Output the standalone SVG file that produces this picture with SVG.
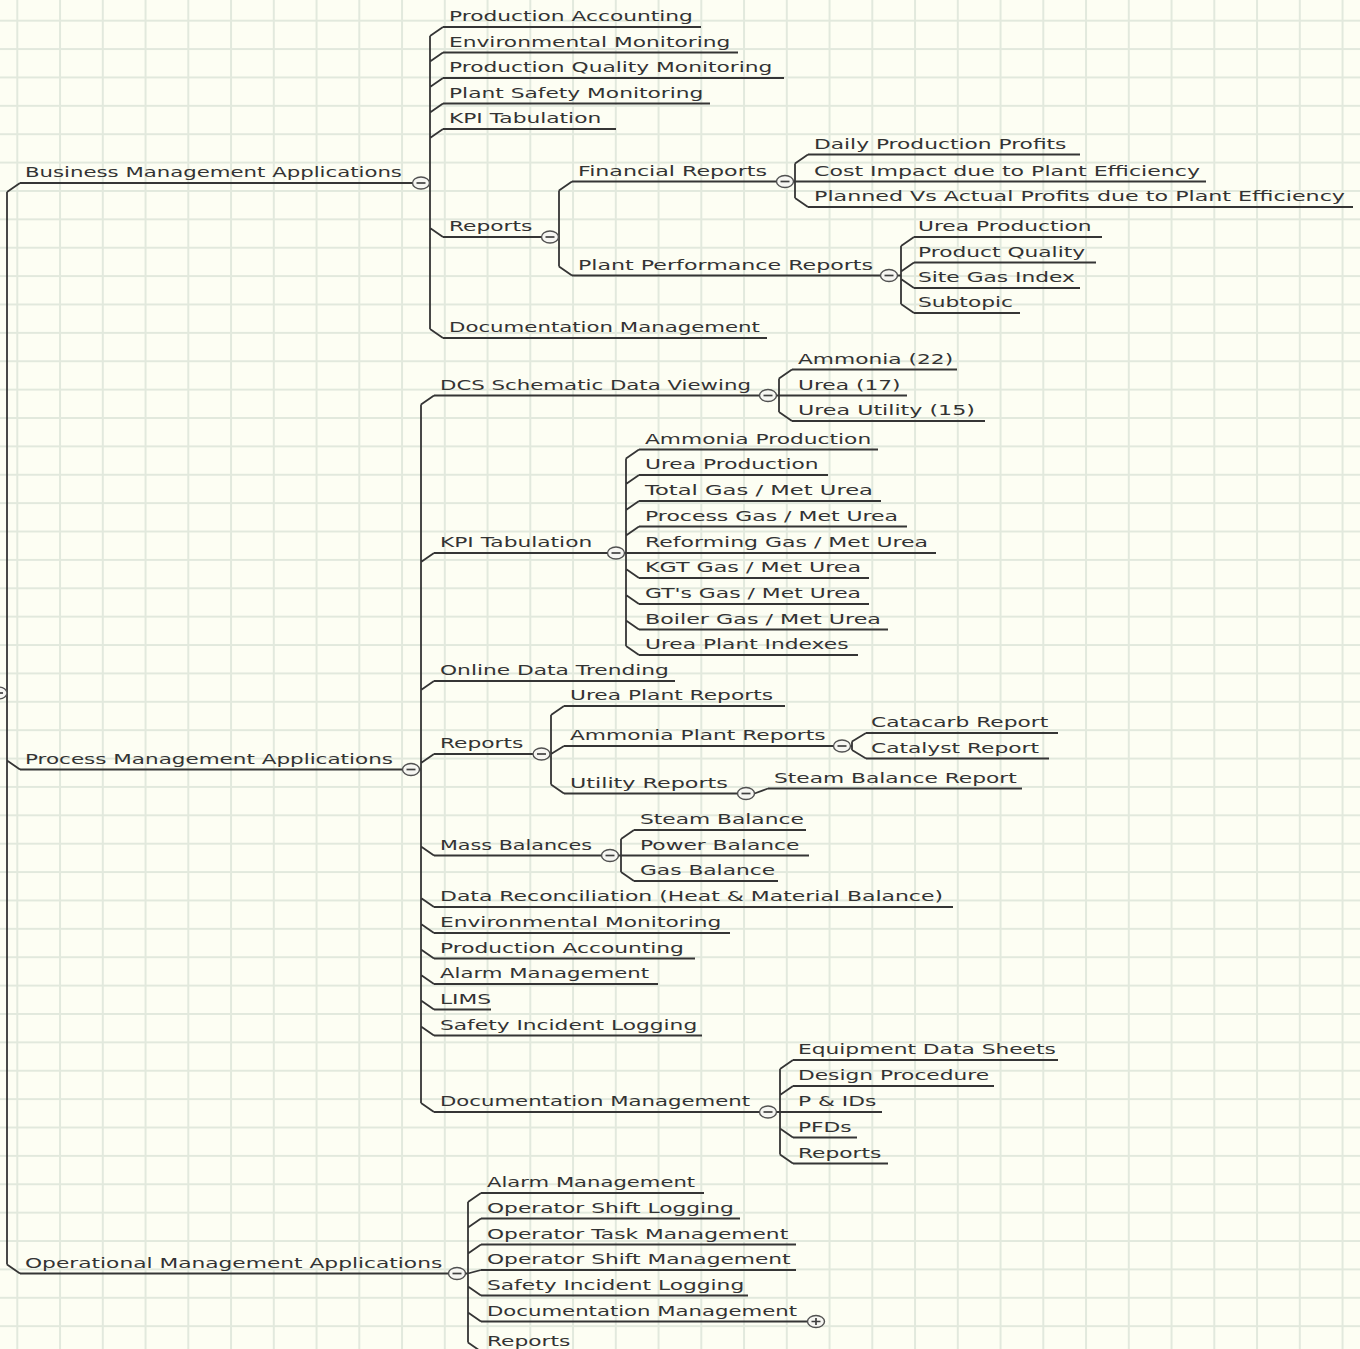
<svg xmlns="http://www.w3.org/2000/svg" xmlns:xlink="http://www.w3.org/1999/xlink" width="1360" height="1349" viewBox="0 0 1360 1349">
<style>
.t{font-family:"DejaVu Sans",Verdana,sans-serif;font-size:14.5px;fill:#333333;}
.l{stroke:#353535;stroke-width:1.8;fill:none;}
.c{fill:#f6f6f2;stroke:#505050;stroke-width:1.4;}
.m{stroke:#404040;stroke-width:1.7;fill:none;}
</style>
<defs>
<pattern id="grid" x="16.3" y="19.7" width="42.75" height="28.38" patternUnits="userSpaceOnUse">
<path d="M1 0V28.38M0 1H42.75" stroke="#e2e9dd" stroke-width="2" fill="none"/>
</pattern>
<g id="mn"><ellipse cx="0" cy="0" rx="8.5" ry="6" class="c"/><path d="M-4.5 0H4.5" class="m"/></g>
<g id="pl"><ellipse cx="0" cy="0" rx="8.5" ry="6" class="c"/><path d="M-4.5 0H4.5M0 -3.5V3.5" class="m"/></g>
</defs>
<rect width="1360" height="1349" fill="#fdfef3"/>
<rect width="1360" height="1349" fill="url(#grid)"/>

<g id="connectors" class="l">
<path d="M7 192V1264.5M7 192L20 183M7 760.5L20 769.5M7 1264.5L20 1273.5"/>
<path d="M429.5 183H430M430 36V329M430 36L443 27M430 61.5L443 52.5M430 87L443 78M430 112.5L443 103.5M430 138L443 129M430 228L443 237M430 329L443 338"/>
<path d="M558.5 237H559M559 190.5V266.5M559 190.5L572 181.5M559 266.5L572 275.5"/>
<path d="M793.5 181.5H795M795 163.5V198M795 163.5L808 154.5M795 198L808 207"/>
<path d="M897.5 275.5H901M901 246V304M901 246L914 237M901 271.5L914 262.5M901 279L914 288M901 304L914 313"/>
<path d="M419.5 769.5H421M421 404.5V1103M421 404.5L434 395.5M421 562L434 553M421 690L434 681M421 763L434 754M421 846.5L434 855.5M421 898L434 907M421 924L434 933M421 949.5L434 958.5M421 975L434 984M421 1000.5L434 1009.5M421 1026.5L434 1035.5M421 1103L434 1112"/>
<path d="M776.5 395.5H779M779 378.5V412M779 378.5L792 369.5M779 412L792 421"/>
<path d="M624.5 553H626M626 458.5V646M626 458.5L639 449.5M626 484L639 475M626 510L639 501M626 535.5L639 526.5M626 569L639 578M626 595L639 604M626 620.5L639 629.5M626 646L639 655"/>
<path d="M550 754H551M551 715V784.5M551 715L564 706M551 754L564 746M551 784.5L564 793.5"/>
<path d="M850.5 746H852M852 741.5V750M852 741.5L866 733M852 750L866 758.5"/>
<path d="M754.5 793.5L768 788.5"/>
<path d="M618.5 855.5H621M621 839V872M621 839L634 830M621 872L634 881"/>
<path d="M776.5 1112H780M780 1069V1154.5M780 1069L793 1060M780 1095L793 1086M780 1128.5L793 1137.5M780 1154.5L793 1163.5"/>
<path d="M465.5 1273.5H468M468 1202V1342.5M468 1202L481 1193M468 1227.5L481 1218.5M468 1253.5L481 1244.5M468 1273.5L481 1270M468 1286.5L481 1295.5M468 1312.5L481 1321.5M468 1342.5L481 1351.5"/>
</g>

<g id="root"><use href="#mn" x="-1.5" y="693"/></g>

<g id="bma"><text class="t" transform="translate(25 177) scale(1.5 1)" textLength="251.3" lengthAdjust="spacingAndGlyphs">Business Management Applications</text><path class="l" d="M20 183H412.5"/><use href="#mn" x="421" y="183"/></g>
<g id="pma"><text class="t" transform="translate(25 763.5) scale(1.5 1)" textLength="245.3" lengthAdjust="spacingAndGlyphs">Process Management Applications</text><path class="l" d="M20 769.5H402.5"/><use href="#mn" x="411" y="769.5"/></g>
<g id="oma"><text class="t" transform="translate(25 1267.5) scale(1.5 1)">Operational Management Applications</text><path class="l" d="M20 1273.5H448.5"/><use href="#mn" x="457" y="1273.5"/></g>

<g id="b1"><text class="t" transform="translate(449 21) scale(1.5 1)">Production Accounting</text><path class="l" d="M443 27H701"/></g>
<g id="b2"><text class="t" transform="translate(449 46.5) scale(1.5 1)">Environmental Monitoring</text><path class="l" d="M443 52.5H738"/></g>
<g id="b3"><text class="t" transform="translate(449 72) scale(1.5 1)">Production Quality Monitoring</text><path class="l" d="M443 78H784"/></g>
<g id="b4"><text class="t" transform="translate(449 97.5) scale(1.5 1)">Plant Safety Monitoring</text><path class="l" d="M443 103.5H710"/></g>
<g id="b5"><text class="t" transform="translate(449 123) scale(1.5 1)">KPI Tabulation</text><path class="l" d="M443 129H616"/></g>
<g id="b6"><text class="t" transform="translate(449 231) scale(1.5 1)">Reports</text><path class="l" d="M443 237H541.5"/><use href="#mn" x="550" y="237"/></g>
<g id="b7"><text class="t" transform="translate(449 332) scale(1.5 1)" textLength="207.3" lengthAdjust="spacingAndGlyphs">Documentation Management</text><path class="l" d="M443 338H767"/></g>

<g id="b6a"><text class="t" transform="translate(578 175.5) scale(1.5 1)" textLength="126" lengthAdjust="spacingAndGlyphs">Financial Reports</text><path class="l" d="M572 181.5H776.5"/><use href="#mn" x="785" y="181.5"/></g>
<g id="b6b"><text class="t" transform="translate(578 269.5) scale(1.5 1)" textLength="196.7" lengthAdjust="spacingAndGlyphs">Plant Performance Reports</text><path class="l" d="M572 275.5H880.5"/><use href="#mn" x="889" y="275.5"/></g>

<g id="f1"><text class="t" transform="translate(814 148.5) scale(1.5 1)">Daily Production Profits</text><path class="l" d="M808 154.5H1080"/></g>
<g id="f2"><text class="t" transform="translate(814 175.5) scale(1.5 1)" textLength="257.3" lengthAdjust="spacingAndGlyphs">Cost Impact due to Plant Efficiency</text><path class="l" d="M795 181.5H1206"/></g>
<g id="f3"><text class="t" transform="translate(814 201) scale(1.5 1)" textLength="354" lengthAdjust="spacingAndGlyphs">Planned Vs Actual Profits due to Plant Efficiency</text><path class="l" d="M808 207H1353"/></g>

<g id="p1"><text class="t" transform="translate(918 231) scale(1.5 1)">Urea Production</text><path class="l" d="M914 237H1102"/></g>
<g id="p2"><text class="t" transform="translate(918 256.5) scale(1.5 1)">Product Quality</text><path class="l" d="M914 262.5H1096"/></g>
<g id="p3"><text class="t" transform="translate(918 282) scale(1.5 1)">Site Gas Index</text><path class="l" d="M914 288H1080"/></g>
<g id="p4"><text class="t" transform="translate(918 307) scale(1.5 1)">Subtopic</text><path class="l" d="M914 313H1020"/></g>

<g id="c1"><text class="t" transform="translate(440 389.5) scale(1.5 1)" textLength="207.3" lengthAdjust="spacingAndGlyphs">DCS Schematic Data Viewing</text><path class="l" d="M434 395.5H759.5"/><use href="#mn" x="768" y="395.5"/></g>
<g id="c1a"><text class="t" transform="translate(798 363.5) scale(1.5 1)">Ammonia (22)</text><path class="l" d="M792 369.5H957"/></g>
<g id="c1b"><text class="t" transform="translate(798 389.5) scale(1.5 1)">Urea (17)</text><path class="l" d="M779 395.5H907"/></g>
<g id="c1c"><text class="t" transform="translate(798 415) scale(1.5 1)" textLength="118" lengthAdjust="spacingAndGlyphs">Urea Utility (15)</text><path class="l" d="M792 421H985"/></g>

<g id="c2"><text class="t" transform="translate(440 547) scale(1.5 1)">KPI Tabulation</text><path class="l" d="M434 553H607.5"/><use href="#mn" x="616" y="553"/></g>
<g id="k1"><text class="t" transform="translate(645 443.5) scale(1.5 1)">Ammonia Production</text><path class="l" d="M639 449.5H878"/></g>
<g id="k2"><text class="t" transform="translate(645 469) scale(1.5 1)">Urea Production</text><path class="l" d="M639 475H828"/></g>
<g id="k3"><text class="t" transform="translate(645 495) scale(1.5 1)" textLength="152" lengthAdjust="spacingAndGlyphs">Total Gas / Met Urea</text><path class="l" d="M639 501H881"/></g>
<g id="k4"><text class="t" transform="translate(645 520.5) scale(1.5 1)" textLength="168.7" lengthAdjust="spacingAndGlyphs">Process Gas / Met Urea</text><path class="l" d="M639 526.5H907"/></g>
<g id="k5"><text class="t" transform="translate(645 547) scale(1.5 1)" textLength="188.7" lengthAdjust="spacingAndGlyphs">Reforming Gas / Met Urea</text><path class="l" d="M626 553H936"/></g>
<g id="k6"><text class="t" transform="translate(645 572) scale(1.5 1)" textLength="144" lengthAdjust="spacingAndGlyphs">KGT Gas / Met Urea</text><path class="l" d="M639 578H869"/></g>
<g id="k7"><text class="t" transform="translate(645 598) scale(1.5 1)" textLength="144" lengthAdjust="spacingAndGlyphs">GT's Gas / Met Urea</text><path class="l" d="M639 604H869"/></g>
<g id="k8"><text class="t" transform="translate(645 623.5) scale(1.5 1)" textLength="157.3" lengthAdjust="spacingAndGlyphs">Boiler Gas / Met Urea</text><path class="l" d="M639 629.5H888"/></g>
<g id="k9"><text class="t" transform="translate(645 649) scale(1.5 1)">Urea Plant Indexes</text><path class="l" d="M639 655H858"/></g>

<g id="c3"><text class="t" transform="translate(440 675) scale(1.5 1)">Online Data Trending</text><path class="l" d="M434 681H675"/></g>

<g id="c4"><text class="t" transform="translate(440 748) scale(1.5 1)">Reports</text><path class="l" d="M434 754H533"/><use href="#mn" x="541.5" y="754"/></g>
<g id="r1"><text class="t" transform="translate(570 700) scale(1.5 1)">Urea Plant Reports</text><path class="l" d="M564 706H785"/></g>
<g id="r2"><text class="t" transform="translate(570 740) scale(1.5 1)">Ammonia Plant Reports</text><path class="l" d="M564 746H833.5"/><use href="#mn" x="842" y="746"/></g>
<g id="r2a"><text class="t" transform="translate(871 727) scale(1.5 1)">Catacarb Report</text><path class="l" d="M866 733H1058"/></g>
<g id="r2b"><text class="t" transform="translate(871 752.5) scale(1.5 1)">Catalyst Report</text><path class="l" d="M866 758.5H1049"/></g>
<g id="r3"><text class="t" transform="translate(570 787.5) scale(1.5 1)" textLength="105.3" lengthAdjust="spacingAndGlyphs">Utility Reports</text><path class="l" d="M564 793.5H737.5"/><use href="#mn" x="746" y="793.5"/></g>
<g id="r3a"><text class="t" transform="translate(774 782.5) scale(1.5 1)">Steam Balance Report</text><path class="l" d="M768 788.5H1022"/></g>

<g id="c5"><text class="t" transform="translate(440 849.5) scale(1.5 1)" textLength="101.3" lengthAdjust="spacingAndGlyphs">Mass Balances</text><path class="l" d="M434 855.5H601.5"/><use href="#mn" x="610" y="855.5"/></g>
<g id="m1"><text class="t" transform="translate(640 824) scale(1.5 1)">Steam Balance</text><path class="l" d="M634 830H806"/></g>
<g id="m2"><text class="t" transform="translate(640 849.5) scale(1.5 1)">Power Balance</text><path class="l" d="M621 855.5H809"/></g>
<g id="m3"><text class="t" transform="translate(640 875) scale(1.5 1)">Gas Balance</text><path class="l" d="M634 881H778"/></g>

<g id="c6"><text class="t" transform="translate(440 901) scale(1.5 1)" textLength="335.3" lengthAdjust="spacingAndGlyphs">Data Reconciliation (Heat &amp; Material Balance)</text><path class="l" d="M434 907H953"/></g>
<g id="c7"><text class="t" transform="translate(440 927) scale(1.5 1)">Environmental Monitoring</text><path class="l" d="M434 933H730"/></g>
<g id="c8"><text class="t" transform="translate(440 952.5) scale(1.5 1)">Production Accounting</text><path class="l" d="M434 958.5H695"/></g>
<g id="c9"><text class="t" transform="translate(440 978) scale(1.5 1)" textLength="139.3" lengthAdjust="spacingAndGlyphs">Alarm Management</text><path class="l" d="M434 984H658"/></g>
<g id="c10"><text class="t" transform="translate(440 1003.5) scale(1.5 1)">LIMS</text><path class="l" d="M434 1009.5H491"/></g>
<g id="c11"><text class="t" transform="translate(440 1029.5) scale(1.5 1)">Safety Incident Logging</text><path class="l" d="M434 1035.5H702"/></g>
<g id="c12"><text class="t" transform="translate(440 1106) scale(1.5 1)" textLength="206.7" lengthAdjust="spacingAndGlyphs">Documentation Management</text><path class="l" d="M434 1112H759.5"/><use href="#mn" x="768" y="1112"/></g>
<g id="d1"><text class="t" transform="translate(798 1054) scale(1.5 1)">Equipment Data Sheets</text><path class="l" d="M793 1060H1058"/></g>
<g id="d2"><text class="t" transform="translate(798 1080) scale(1.5 1)">Design Procedure</text><path class="l" d="M793 1086H994"/></g>
<g id="d3"><text class="t" transform="translate(798 1106) scale(1.5 1)">P &amp; IDs</text><path class="l" d="M780 1112H882"/></g>
<g id="d4"><text class="t" transform="translate(798 1131.5) scale(1.5 1)">PFDs</text><path class="l" d="M793 1137.5H857"/></g>
<g id="d5"><text class="t" transform="translate(798 1157.5) scale(1.5 1)">Reports</text><path class="l" d="M793 1163.5H888"/></g>

<g id="o1"><text class="t" transform="translate(487 1187) scale(1.5 1)" textLength="138.7" lengthAdjust="spacingAndGlyphs">Alarm Management</text><path class="l" d="M481 1193H704"/></g>
<g id="o2"><text class="t" transform="translate(487 1212.5) scale(1.5 1)">Operator Shift Logging</text><path class="l" d="M481 1218.5H740"/></g>
<g id="o3"><text class="t" transform="translate(487 1238.5) scale(1.5 1)">Operator Task Management</text><path class="l" d="M481 1244.5H796"/></g>
<g id="o4"><text class="t" transform="translate(487 1264) scale(1.5 1)">Operator Shift Management</text><path class="l" d="M481 1270H796"/></g>
<g id="o5"><text class="t" transform="translate(487 1289.5) scale(1.5 1)">Safety Incident Logging</text><path class="l" d="M481 1295.5H748"/></g>
<g id="o6"><text class="t" transform="translate(487 1315.5) scale(1.5 1)" textLength="206.7" lengthAdjust="spacingAndGlyphs">Documentation Management</text><path class="l" d="M481 1321.5H807.5"/><use href="#pl" x="816" y="1321.5"/></g>
<g id="o7"><text class="t" transform="translate(487 1345.5) scale(1.5 1)">Reports</text><path class="l" d="M481 1351.5H575"/></g>
</svg>
